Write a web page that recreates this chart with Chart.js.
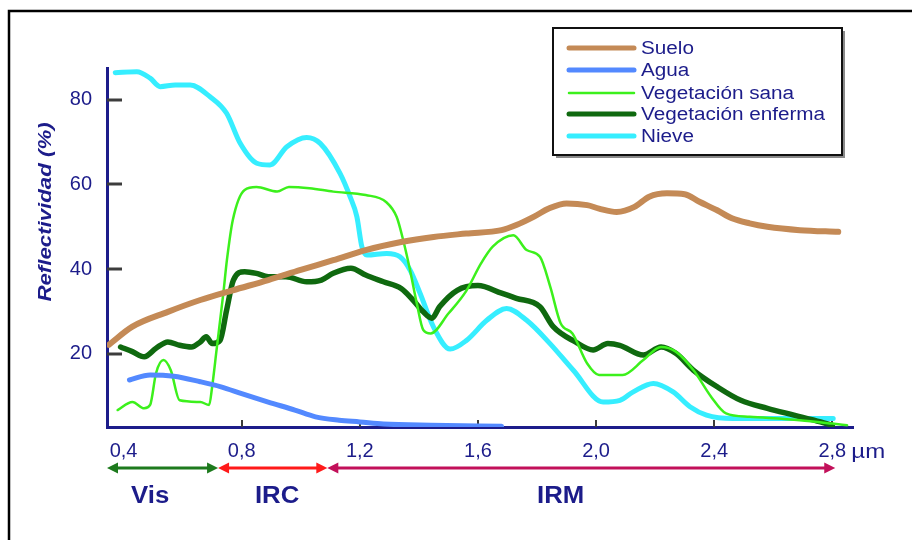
<!DOCTYPE html>
<html>
<head>
<meta charset="utf-8">
<title>Reflectividad</title>
<style>
  html, body { margin: 0; padding: 0; background: #fff; }
</style>
</head>
<body>
<canvas id="refl-chart" width="912" height="540"></canvas>
<script src="https://cdn.jsdelivr.net/npm/chart.js"></script>
<script>
// --- datos (longitud de onda en µm, reflectividad en %) ---
const seriesNames = ["Suelo", "Agua", "Vegetación sana", "Vegetación enferma", "Nieve"];

const sueloX = [0.35, 0.43, 0.55, 0.66, 0.77, 0.89, 1.00, 1.11, 1.22, 1.34, 1.45, 1.56, 1.68, 1.73, 1.79, 1.84, 1.90, 1.97, 2.01, 2.07, 2.13, 2.18, 2.24, 2.30, 2.35, 2.41, 2.46, 2.52, 2.58, 2.69, 2.82];
const sueloY = [22.1, 26.4, 29.9, 32.7, 35.0, 37.4, 39.8, 42.1, 44.5, 46.4, 47.6, 48.4, 49.2, 50.4, 52.4, 54.3, 55.5, 55.1, 54.3, 53.5, 54.7, 57.1, 57.9, 57.7, 55.9, 53.9, 52.0, 50.8, 50.0, 49.2, 48.8];

const aguaX = [0.42, 0.49, 0.57, 0.66, 0.73, 0.80, 0.89, 0.98, 1.05, 1.13, 1.20, 1.28, 1.44, 1.68];
const aguaY = [13.8, 15.0, 14.7, 13.4, 12.2, 10.6, 8.6, 6.7, 5.1, 4.3, 3.9, 3.4, 3.1, 2.9];

const sanaX = [0.38, 0.43, 0.47, 0.49, 0.51, 0.535, 0.56, 0.59, 0.66, 0.69, 0.70, 0.715, 0.727, 0.738, 0.75, 0.77, 0.81, 0.85, 0.92, 0.96, 1.03, 1.11, 1.22, 1.29, 1.325, 1.347, 1.37, 1.393, 1.415, 1.44, 1.50, 1.56, 1.61, 1.65, 1.72, 1.765, 1.81, 1.845, 1.88, 1.92, 1.97, 2.01, 2.09, 2.16, 2.22, 2.27, 2.33, 2.39, 2.44, 2.52, 2.69, 2.80, 2.85];
const sanaY = [6.7, 8.6, 7.1, 7.9, 15.4, 18.5, 16.1, 9.0, 8.6, 7.9, 12.2, 20.9, 27.9, 34.3, 42.1, 51.6, 58.7, 59.4, 58.3, 59.4, 59.1, 58.3, 57.5, 55.8, 52.3, 46.8, 39.8, 31.9, 25.6, 24.8, 29.5, 34.8, 41.3, 45.3, 48.0, 44.5, 42.9, 35.8, 27.2, 24.8, 17.7, 15.0, 15.0, 18.5, 21.6, 20.5, 16.1, 9.8, 5.9, 5.1, 4.3, 3.5, 3.1];

const enfermaX = [0.39, 0.43, 0.47, 0.51, 0.55, 0.59, 0.63, 0.66, 0.68, 0.70, 0.727, 0.749, 0.772, 0.81, 0.85, 0.89, 0.95, 1.02, 1.07, 1.11, 1.17, 1.22, 1.28, 1.34, 1.38, 1.415, 1.444, 1.47, 1.53, 1.60, 1.68, 1.73, 1.81, 1.855, 1.93, 1.99, 2.04, 2.08, 2.16, 2.22, 2.27, 2.33, 2.41, 2.49, 2.58, 2.67, 2.76, 2.80];
const enfermaY = [21.6, 20.5, 19.3, 21.3, 22.8, 22.0, 21.6, 22.8, 24.0, 22.4, 23.2, 30.3, 37.4, 39.4, 39.0, 38.2, 38.2, 37.0, 37.4, 39.0, 40.2, 38.6, 37.0, 35.4, 32.7, 29.9, 28.4, 31.1, 35.0, 36.1, 34.3, 33.1, 31.1, 26.4, 22.8, 20.9, 22.4, 22.0, 19.7, 21.6, 20.1, 16.1, 12.2, 9.0, 7.1, 5.5, 3.9, 3.1];

const nieveX = [0.372, 0.445, 0.49, 0.524, 0.575, 0.626, 0.693, 0.749, 0.795, 0.851, 0.896, 0.953, 1.02, 1.066, 1.133, 1.167, 1.19, 1.207, 1.224, 1.291, 1.336, 1.37, 1.404, 1.449, 1.506, 1.562, 1.63, 1.697, 1.765, 1.844, 1.923, 2.024, 2.081, 2.126, 2.194, 2.261, 2.318, 2.374, 2.464, 2.69, 2.803];
const nieveY = [86.4, 86.6, 85.1, 83.1, 83.5, 83.5, 80.7, 76.8, 69.7, 65.0, 64.6, 68.9, 71.1, 69.7, 62.6, 57.1, 52.4, 45.3, 43.3, 43.7, 42.9, 39.8, 34.3, 26.4, 21.1, 23.2, 27.9, 30.7, 27.9, 22.4, 16.1, 8.6, 9.0, 11.0, 13.0, 11.0, 7.5, 5.5, 4.7, 4.7, 4.7];

const xTicks = [0.4, 0.8, 1.2, 1.6, 2.0, 2.4, 2.8];
const yTicks = [20, 40, 60, 80];

// regiones del espectro bajo el eje
const bandNames = ["Vis", "IRC", "IRM"];
const bandEdges = [0.344, 0.72, 1.09, 2.81];
const bandLabelAt = [0.49, 0.92, 1.88];

// ---------------------------------------------------------------
const NAVY = "#1c1c8a";

function pts(xs, ys) {
    return xs.map((x, i) => ({ x: x, y: ys[i] }));
}

function comma(v) {
    return v.toFixed(1).replace(".", ",");
}

function wideText(ctx, txt, x, y, sx, align) {
    ctx.save();
    ctx.translate(x, y);
    ctx.scale(sx, 1);
    ctx.textAlign = align;
    ctx.fillText(txt, 0, 0);
    ctx.restore();
}

function arrowHead(ctx, tipX, y, dir) {
    ctx.beginPath();
    ctx.moveTo(tipX, y);
    ctx.lineTo(tipX - dir * 11, y - 5.5);
    ctx.lineTo(tipX - dir * 11, y + 5.5);
    ctx.closePath();
    ctx.fill();
}

const decorations = {
    id: "decorations",
    beforeDraw(chart) {
        const ctx = chart.ctx;
        ctx.save();
        ctx.fillStyle = "#fff";
        ctx.fillRect(0, 0, chart.width, chart.height);
        // marco de la figura
        ctx.strokeStyle = "#000";
        ctx.lineWidth = 2.5;
        ctx.beginPath();
        ctx.moveTo(9, chart.height);
        ctx.lineTo(9, 11);
        ctx.lineTo(chart.width, 11);
        ctx.stroke();
        ctx.restore();
    },
    beforeDatasetsDraw(chart) {
        const ctx = chart.ctx;
        const xs = chart.scales.x, ys = chart.scales.y;
        ctx.save();
        ctx.strokeStyle = "#3c3c3c";
        ctx.lineWidth = 3;
        ys.ticks.forEach(t => {
            const py = Math.round(ys.getPixelForValue(t.value));
            ctx.beginPath();
            ctx.moveTo(xs.left, py);
            ctx.lineTo(xs.left + 15, py);
            ctx.stroke();
        });
        ctx.lineWidth = 2;
        xs.ticks.forEach(t => {
            if (t.value < 0.5) return;
            const px = Math.round(xs.getPixelForValue(t.value));
            ctx.beginPath();
            ctx.moveTo(px, ys.bottom);
            ctx.lineTo(px, ys.bottom - 7);
            ctx.stroke();
        });
        ctx.restore();
    },
    afterDraw(chart) {
        const ctx = chart.ctx;
        const xs = chart.scales.x;
        ctx.save();

        // titulo del eje y
        ctx.fillStyle = NAVY;
        ctx.font = "italic bold 19px 'Liberation Sans', Arial, sans-serif";
        ctx.textBaseline = "middle";
        ctx.save();
        ctx.translate(46, 212);
        ctx.rotate(-Math.PI / 2);
        ctx.scale(1.17, 1);
        ctx.textAlign = "center";
        ctx.fillText("Reflectividad (%)", 0, 0);
        ctx.restore();

        // unidad del eje x
        ctx.font = "20px 'Liberation Sans', Arial, sans-serif";
        wideText(ctx, "µm", xs.getPixelForValue(2.8) + 19, 452, 1.2, "left");

        // flechas de las regiones
        const arrowY = 468;
        const colors = ["#1d7a1d", "#ff1a1a", "#c2105a"];
        for (let i = 0; i < bandNames.length; i++) {
            const a = xs.getPixelForValue(bandEdges[i]);
            const b = xs.getPixelForValue(bandEdges[i + 1]);
            ctx.strokeStyle = colors[i];
            ctx.fillStyle = colors[i];
            ctx.lineWidth = 3;
            ctx.beginPath();
            ctx.moveTo(a + 8, arrowY);
            ctx.lineTo(b - 8, arrowY);
            ctx.stroke();
            arrowHead(ctx, a, arrowY, -1);
            arrowHead(ctx, b, arrowY, 1);
        }
        ctx.fillStyle = NAVY;
        ctx.font = "bold 23px 'Liberation Sans', Arial, sans-serif";
        bandNames.forEach((n, i) => {
            wideText(ctx, n, xs.getPixelForValue(bandLabelAt[i]), 497, 1.12, "center");
        });

        // leyenda
        const bx = 553, by = 28, bw = 289, bh = 127;
        ctx.fillStyle = "#8a8a8a";
        ctx.fillRect(bx + 3, by + 3, bw, bh);
        ctx.fillStyle = "#fff";
        ctx.fillRect(bx, by, bw, bh);
        ctx.strokeStyle = "#111";
        ctx.lineWidth = 2;
        ctx.strokeRect(bx, by, bw, bh);
        const rowY = [48, 70, 93, 114, 136];
        ctx.font = "18px 'Liberation Sans', Arial, sans-serif";
        ctx.lineCap = "round";
        chart.data.datasets.forEach((ds, i) => {
            ctx.strokeStyle = ds.borderColor;
            ctx.lineWidth = Math.min(ds.borderWidth, 5);
            ctx.beginPath();
            ctx.moveTo(569, rowY[i]);
            ctx.lineTo(634, rowY[i]);
            ctx.stroke();
            ctx.fillStyle = NAVY;
            wideText(ctx, ds.label, 641, rowY[i] + 1, 1.15, "left");
        });
        ctx.restore();
    }
};

const seriesPoints = [
    pts(sueloX, sueloY),
    pts(aguaX, aguaY),
    pts(sanaX, sanaY),
    pts(enfermaX, enfermaY),
    pts(nieveX, nieveY)
];
const lineColors = ["#c48a56", "#5389ff", "#3cf01c", "#0f690f", "#36eeff"];
const lineWidths = [6, 5, 2.5, 5.5, 5];

const ctx = document.getElementById("refl-chart");

new Chart(ctx, {
    type: "line",
    data: {
        datasets: seriesNames.map((name, i) => ({
            label: name,
            data: seriesPoints[i],
            borderColor: lineColors[i],
            borderWidth: lineWidths[i],
            pointRadius: 0,
            fill: false,
            cubicInterpolationMode: "monotone",
            borderCapStyle: "round",
            borderJoinStyle: "round"
        }))
    },
    options: {
        responsive: false,
        animation: false,
        layout: { padding: { top: 68, right: 59, left: 0, bottom: 0 } },
        plugins: {
            legend: { display: false },
            tooltip: { enabled: false }
        },
        scales: {
            x: {
                type: "linear",
                min: 0.344,
                max: 2.87,
                afterBuildTicks: s => { s.ticks = xTicks.map(v => ({ value: v })); },
                afterFit: s => { s.height = 113; },
                grid: { drawOnChartArea: false, drawTicks: false },
                border: { color: NAVY, width: 3 },
                ticks: {
                    color: NAVY,
                    padding: 12,
                    maxRotation: 0,
                    autoSkip: false,
                    font: { family: "'Liberation Sans', Arial, sans-serif", size: 20 },
                    callback: v => comma(v)
                }
            },
            y: {
                min: 2.7,
                max: 87.5,
                afterBuildTicks: s => { s.ticks = yTicks.map(v => ({ value: v })); },
                afterFit: s => { s.width = 107; },
                grid: { drawOnChartArea: false, drawTicks: false },
                border: { color: NAVY, width: 3 },
                ticks: {
                    color: NAVY,
                    padding: 15,
                    font: { family: "'Liberation Sans', Arial, sans-serif", size: 20 }
                }
            }
        }
    },
    plugins: [decorations]
});
</script>
</body>
</html>
